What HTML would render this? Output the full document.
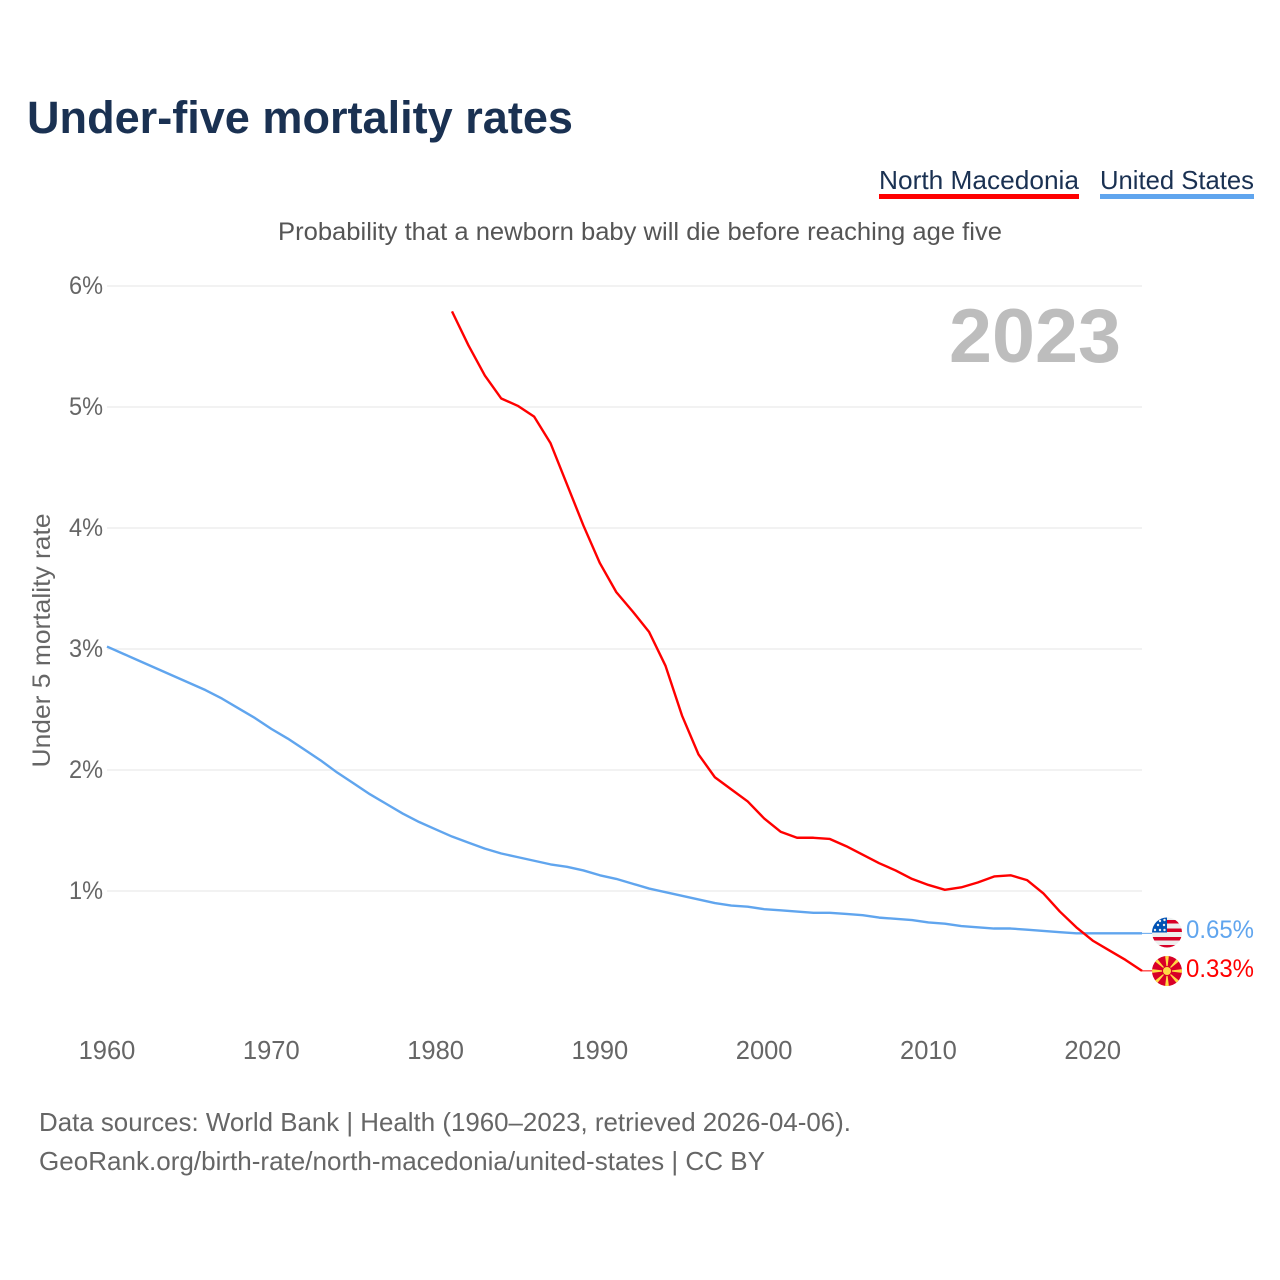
<!DOCTYPE html>
<html lang="en">
<head>
<meta charset="utf-8">
<title>Under-five mortality rates</title>
<style>
html,body{margin:0;padding:0;background:#fff;width:1280px;height:1280px;overflow:hidden}
svg{display:block}
text{font-family:"Liberation Sans",sans-serif}
</style>
</head>
<body>
<svg id="chart" xmlns="http://www.w3.org/2000/svg" width="1280" height="1280" viewBox="0 0 1280 1280">
  <rect width="1280" height="1280" fill="#fff"/>
  <text x="27" y="133" font-size="45" font-weight="700" fill="#1a3152" textLength="546" lengthAdjust="spacingAndGlyphs">Under-five mortality rates</text>
  <g>
    <g>
      <text x="879" y="189" font-size="26" fill="#1a3152" textLength="200" lengthAdjust="spacingAndGlyphs">North Macedonia</text>
      <rect x="879" y="194" width="200" height="5" fill="#ff0000"/>
    </g>
    <g>
      <text x="1100" y="189" font-size="26" fill="#1a3152" textLength="154" lengthAdjust="spacingAndGlyphs">United States</text>
      <rect x="1100" y="194" width="154" height="5" fill="#60a5ee"/>
    </g>
  </g>
  <text x="278" y="240" font-size="25" fill="#555" textLength="724" lengthAdjust="spacingAndGlyphs">Probability that a newborn baby will die before reaching age five</text>
  <g id="grid"></g>
  <g id="yticks"></g>
  <g id="xticks"></g>
  <text transform="translate(50,640.5) rotate(-90)" text-anchor="middle" font-size="25" fill="#666" textLength="254" lengthAdjust="spacingAndGlyphs">Under 5 mortality rate</text>
  <text x="949" y="362" font-size="76" font-weight="700" fill="#bdbdbd" textLength="172" lengthAdjust="spacingAndGlyphs">2023</text>
  <g id="series"></g>

  <g>
    <clipPath id="usClip"><circle cx="1167" cy="932.5" r="15"/></clipPath>
    <g clip-path="url(#usClip)">
      <rect x="1152" y="917" width="30" height="31" fill="#eeeeee"/>
      <rect x="1167" y="920" width="15" height="3.5" fill="#d80027"/>
      <rect x="1167" y="928.5" width="15" height="3.5" fill="#d80027"/>
      <rect x="1152" y="937" width="30" height="3.5" fill="#d80027"/>
      <rect x="1152" y="945" width="30" height="3" fill="#d80027"/>
      <rect x="1152" y="917" width="15" height="15.5" fill="#0052b4"/>
      <circle cx="1155" cy="930" r="1.2" fill="#eee"/>
      <circle cx="1160" cy="930" r="1.2" fill="#eee"/>
      <circle cx="1164.5" cy="930" r="1.2" fill="#eee"/>
      <circle cx="1158" cy="925" r="1.2" fill="#eee"/>
      <circle cx="1164" cy="925" r="1.2" fill="#eee"/>
      <circle cx="1160" cy="921" r="1.2" fill="#eee"/>
      <circle cx="1164.5" cy="920" r="1.2" fill="#eee"/>
    </g>
  </g>
  <g>
    <clipPath id="mkClip"><circle cx="1167" cy="971" r="15"/></clipPath>
    <g clip-path="url(#mkClip)">
      <rect x="1152" y="956" width="30" height="30" fill="#d80027"/>
      <g fill="#ffda44">
        <polygon points="1167,971 1165,955 1169,955"/>
        <polygon points="1167,971 1165,987 1169,987"/>
        <polygon points="1167,971 1151,969 1151,973"/>
        <polygon points="1167,971 1183,969 1183,973"/>
        <polygon points="1167,971 1152,959 1155,956"/>
        <polygon points="1167,971 1182,959 1179,956"/>
        <polygon points="1167,971 1152,983 1155,986"/>
        <polygon points="1167,971 1182,983 1179,986"/>
      </g>
      <circle cx="1167" cy="971" r="5" fill="#d80027"/>
      <circle cx="1167" cy="971" r="4" fill="#ffda44"/>
    </g>
  </g>
  <text x="1186" y="938" font-size="25" fill="#60a5ee" textLength="68" lengthAdjust="spacingAndGlyphs">0.65%</text>
  <text x="1186" y="977" font-size="25" fill="#ff0000" textLength="68" lengthAdjust="spacingAndGlyphs">0.33%</text>

  <text x="39" y="1131" font-size="26" fill="#666" textLength="812" lengthAdjust="spacingAndGlyphs">Data sources: World Bank | Health (1960–2023, retrieved 2026-04-06).</text>
  <text x="39" y="1170" font-size="26" fill="#666" textLength="726" lengthAdjust="spacingAndGlyphs">GeoRank.org/birth-rate/north-macedonia/united-states | CC BY</text>
</svg>
<script>
var yTicks = [1, 2, 3, 4, 5, 6];
var xTicks = [1960, 1970, 1980, 1990, 2000, 2010, 2020];
var usStartYear = 1960;
var usValues = [3.02,2.96,2.90,2.84,2.78,2.72,2.66,2.59,2.51,2.43,2.34,2.26,2.17,2.08,1.98,1.89,1.80,1.72,1.64,1.57,1.51,1.45,1.40,1.35,1.31,1.28,1.25,1.22,1.20,1.17,1.13,1.10,1.06,1.02,0.99,0.96,0.93,0.90,0.88,0.87,0.85,0.84,0.83,0.82,0.82,0.81,0.80,0.78,0.77,0.76,0.74,0.73,0.71,0.70,0.69,0.69,0.68,0.67,0.66,0.65,0.65,0.65,0.65,0.65];
var mkStartYear = 1981;
var mkValues = [5.79,5.51,5.26,5.07,5.01,4.92,4.70,4.36,4.02,3.71,3.47,3.31,3.14,2.86,2.45,2.13,1.94,1.84,1.74,1.60,1.49,1.44,1.44,1.43,1.37,1.30,1.23,1.17,1.10,1.05,1.01,1.03,1.07,1.12,1.13,1.09,0.98,0.83,0.70,0.59,0.51,0.43,0.34];

var NS = 'http://www.w3.org/2000/svg';
function xScale(year) { return 107 + (year - 1960) * (1142 - 107) / 63; }
function yScale(v) { return 1012 - v * 121; }

var grid = document.getElementById('grid');
var yG = document.getElementById('yticks');
var xG = document.getElementById('xticks');
var seriesG = document.getElementById('series');

yTicks.forEach(function (t) {
  var l = document.createElementNS(NS, 'line');
  
  
  l.setAttribute('x1', xScale(1960));
  l.setAttribute('x2', xScale(2023));
  l.setAttribute('y1', yScale(t));
  l.setAttribute('y2', yScale(t));
  l.setAttribute('stroke', '#eeeeee');
  l.setAttribute('stroke-width', '1.6');
  grid.appendChild(l);

  var s = document.createElementNS(NS, 'text');
  
  
  s.setAttribute('x', 69);
  s.setAttribute('y', yScale(t) + 8);
  s.setAttribute('font-size', '25');
  s.setAttribute('fill', '#666');
  s.setAttribute('textLength', '34');
  s.setAttribute('lengthAdjust', 'spacingAndGlyphs');
  s.textContent = t + '%';
  yG.appendChild(s);
});

xTicks.forEach(function (t) {
  var s = document.createElementNS(NS, 'text');
  
  
  s.setAttribute('x', xScale(t));
  s.setAttribute('y', 1059);
  s.setAttribute('text-anchor', 'middle');
  s.setAttribute('font-size', '25.5');
  s.setAttribute('fill', '#666');
  s.textContent = t;
  xG.appendChild(s);
});

function pathFor(start, values) {
  return values.map(function (v, i) {
    return (i ? 'L' : 'M') + xScale(start + i).toFixed(2) + ' ' + yScale(v).toFixed(2);
  }).join(' ');
}

var usLine = document.createElementNS(NS, 'path');


usLine.setAttribute('d', pathFor(usStartYear, usValues));
usLine.setAttribute('fill', 'none');
usLine.setAttribute('stroke', '#60a5ee');
usLine.setAttribute('stroke-width', '2.4');
usLine.setAttribute('stroke-linejoin', 'round');
seriesG.appendChild(usLine);

var mkLine = document.createElementNS(NS, 'path');


mkLine.setAttribute('d', pathFor(mkStartYear, mkValues));
mkLine.setAttribute('fill', 'none');
mkLine.setAttribute('stroke', '#ff0000');
mkLine.setAttribute('stroke-width', '2.4');
mkLine.setAttribute('stroke-linejoin', 'round');
seriesG.appendChild(mkLine);

var usLead = document.createElementNS(NS, 'line');


usLead.setAttribute('x1', xScale(2023));
usLead.setAttribute('x2', 1153);
usLead.setAttribute('y1', yScale(usValues[usValues.length - 1]));
usLead.setAttribute('y2', yScale(usValues[usValues.length - 1]));
usLead.setAttribute('stroke', '#60a5ee');
usLead.setAttribute('stroke-width', '1');
seriesG.appendChild(usLead);

var mkLead = document.createElementNS(NS, 'line');


mkLead.setAttribute('x1', xScale(2023));
mkLead.setAttribute('x2', 1153);
mkLead.setAttribute('y1', yScale(mkValues[mkValues.length - 1]));
mkLead.setAttribute('y2', yScale(mkValues[mkValues.length - 1]));
mkLead.setAttribute('stroke', '#ff0000');
mkLead.setAttribute('stroke-width', '1');
seriesG.appendChild(mkLead);
</script>
</body>
</html>
